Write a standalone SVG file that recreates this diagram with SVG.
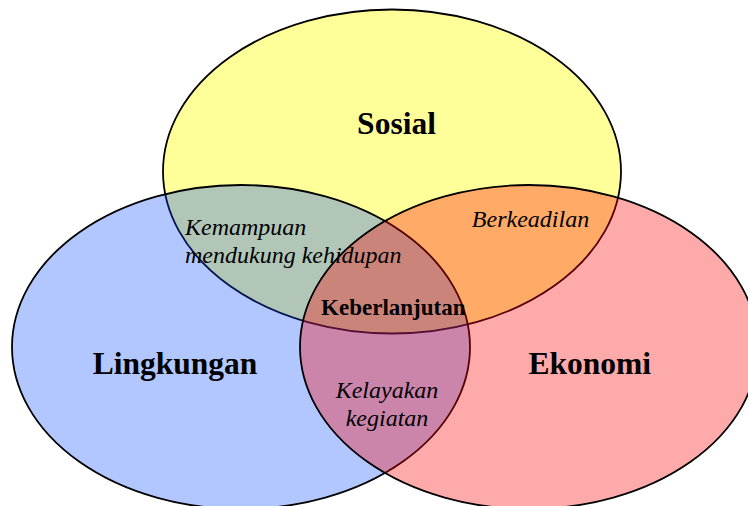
<svg xmlns="http://www.w3.org/2000/svg" width="748" height="506" viewBox="0 0 748 506">
<style>
.ring{stroke:#000;stroke-width:1.8}
.lbl{font-family:"Liberation Serif","Times New Roman",serif;fill:#000;text-anchor:middle}
.main{font-size:31.5px;font-weight:bold}
.mid{font-size:24px;font-style:italic}
.core{font-size:23px;font-weight:bold}
</style>
<rect width="748" height="506" fill="#fff"/>
<g id="sosial">
<ellipse class="ring" cx="392" cy="171.5" rx="229" ry="162" fill="#FFFF00" fill-opacity="0.4"/>
</g>
<g id="lingkungan">
<ellipse class="ring" cx="241" cy="347" rx="229" ry="162" fill="#0042FF" fill-opacity="0.3"/>
</g>
<g id="ekonomi">
<ellipse class="ring" cx="529" cy="347" rx="229" ry="162" fill="#FF0000" fill-opacity="0.333"/>
</g>
<g id="labels">
<text class="lbl main" x="396.5" y="134">Sosial</text>
<text class="lbl main" x="175" y="374">Lingkungan</text>
<text class="lbl main" x="589.7" y="374">Ekonomi</text>
<text class="lbl mid" x="530.5" y="227">Berkeadilan</text>
<text class="lbl mid" style="text-anchor:start" x="185" y="235">Kemampuan</text>
<text class="lbl mid" style="text-anchor:start" x="185" y="262.7">mendukung kehidupan</text>
<text class="lbl mid" x="387" y="397.7">Kelayakan</text>
<text class="lbl mid" x="387" y="425.7">kegiatan</text>
<text class="lbl core" x="393.3" y="315">Keberlanjutan</text>
</g>
</svg>
